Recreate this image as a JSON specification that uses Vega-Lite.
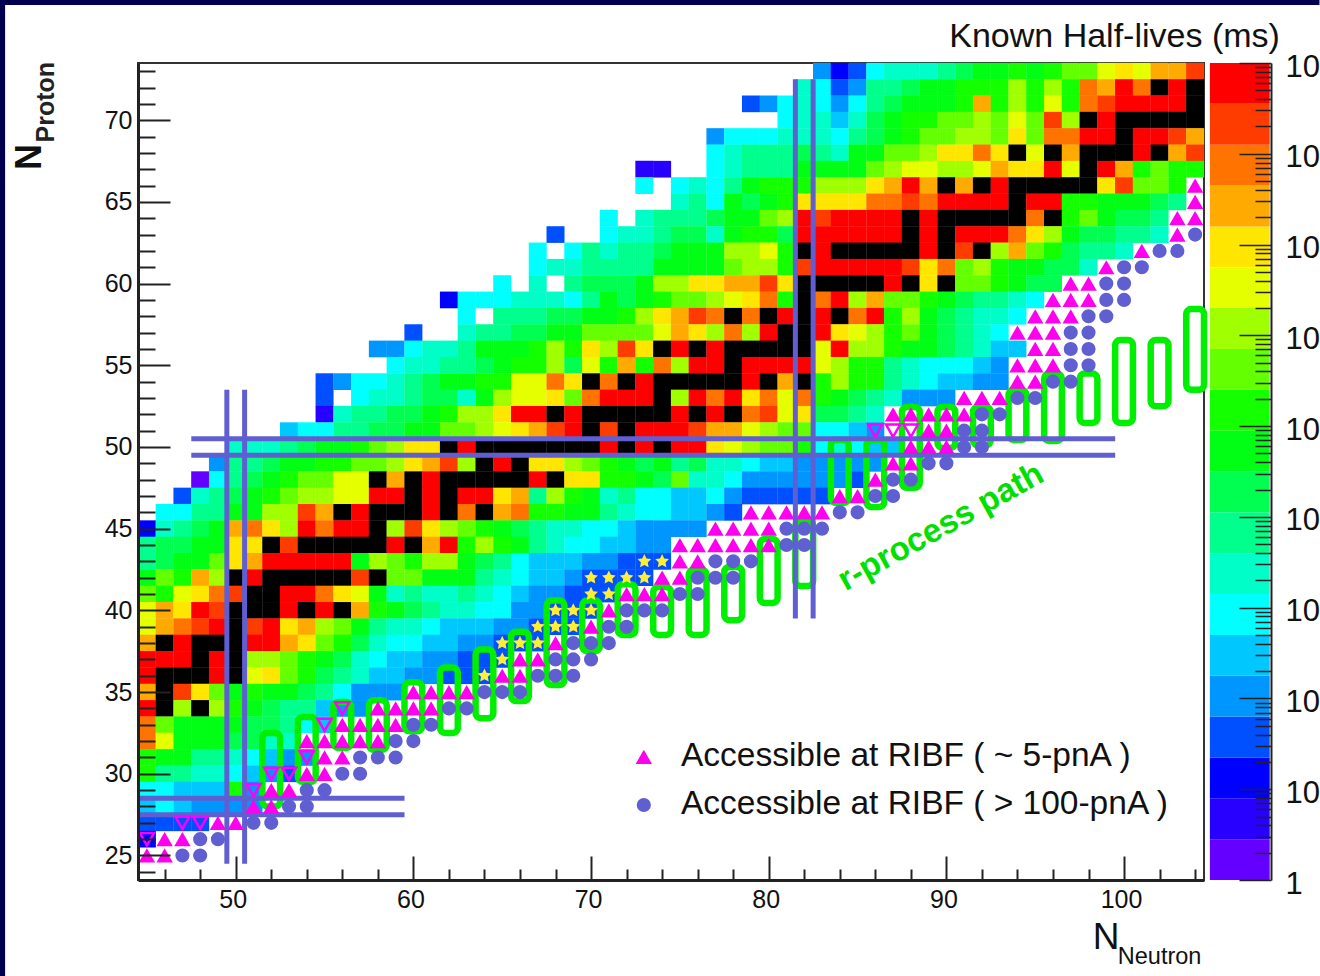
{"$schema":"https://vega.github.io/schema/vega-lite/v6.json","autosize":{"type":"none"},"width":1066,"height":817,"padding":{"left":138,"top":63,"right":116,"bottom":96},"background":"white","config":{"view":{"stroke":"#333333","strokeWidth":2},"text":{"font":"Liberation Sans"}},
"datasets":{"cells":[
{"n":83,"p":73,"v":4},{"n":84,"p":73,"v":2},{"n":85,"p":73,"v":3},{"n":86,"p":73,"v":6},{"n":87,"p":73,"v":7},{"n":88,"p":73,"v":7},{"n":89,"p":73,"v":7},{"n":90,"p":73,"v":8},{"n":91,"p":73,"v":9},{"n":92,"p":73,"v":10},{"n":93,"p":73,"v":10},{"n":94,"p":73,"v":11},{"n":95,"p":73,"v":10},{"n":96,"p":73,"v":11},{"n":97,"p":73,"v":12},{"n":98,"p":73,"v":12},{"n":99,"p":73,"v":14},{"n":100,"p":73,"v":15},{"n":101,"p":73,"v":14},{"n":102,"p":73,"v":16},{"n":103,"p":73,"v":16},{"n":104,"p":73,"v":18},
{"n":82,"p":72,"v":7},{"n":83,"p":72,"v":6},{"n":84,"p":72,"v":3},{"n":85,"p":72,"v":4},{"n":86,"p":72,"v":8},{"n":87,"p":72,"v":8},{"n":88,"p":72,"v":9},{"n":89,"p":72,"v":10},{"n":90,"p":72,"v":10},{"n":91,"p":72,"v":11},{"n":92,"p":72,"v":11},{"n":93,"p":72,"v":11},{"n":94,"p":72,"v":13},{"n":95,"p":72,"v":11},{"n":96,"p":72,"v":13},{"n":97,"p":72,"v":11},{"n":98,"p":72,"v":17},{"n":99,"p":72,"v":16},{"n":100,"p":72,"v":19},{"n":101,"p":72,"v":17},{"n":102,"p":72,"v":20},{"n":103,"p":72,"v":19},{"n":104,"p":72,"v":20},
{"n":79,"p":71,"v":3},{"n":80,"p":71,"v":4},{"n":81,"p":71,"v":6},{"n":82,"p":71,"v":7},{"n":83,"p":71,"v":6},{"n":84,"p":71,"v":4},{"n":85,"p":71,"v":6},{"n":86,"p":71,"v":8},{"n":87,"p":71,"v":9},{"n":88,"p":71,"v":10},{"n":89,"p":71,"v":10},{"n":90,"p":71,"v":10},{"n":91,"p":71,"v":11},{"n":92,"p":71,"v":16},{"n":93,"p":71,"v":11},{"n":94,"p":71,"v":13},{"n":95,"p":71,"v":11},{"n":96,"p":71,"v":14},{"n":97,"p":71,"v":11},{"n":98,"p":71,"v":17},{"n":99,"p":71,"v":18},{"n":100,"p":71,"v":19},{"n":101,"p":71,"v":19},{"n":102,"p":71,"v":19},{"n":103,"p":71,"v":19},{"n":104,"p":71,"v":20},
{"n":81,"p":70,"v":6},{"n":82,"p":70,"v":7},{"n":83,"p":70,"v":7},{"n":84,"p":70,"v":5},{"n":85,"p":70,"v":7},{"n":86,"p":70,"v":9},{"n":87,"p":70,"v":10},{"n":88,"p":70,"v":11},{"n":89,"p":70,"v":11},{"n":90,"p":70,"v":12},{"n":91,"p":70,"v":12},{"n":92,"p":70,"v":13},{"n":93,"p":70,"v":12},{"n":94,"p":70,"v":14},{"n":95,"p":70,"v":12},{"n":96,"p":70,"v":18},{"n":97,"p":70,"v":13},{"n":98,"p":70,"v":20},{"n":99,"p":70,"v":19},{"n":100,"p":70,"v":20},{"n":101,"p":70,"v":20},{"n":102,"p":70,"v":20},{"n":103,"p":70,"v":20},{"n":104,"p":70,"v":20},
{"n":77,"p":69,"v":4},{"n":78,"p":69,"v":6},{"n":79,"p":69,"v":6},{"n":80,"p":69,"v":6},{"n":81,"p":69,"v":7},{"n":82,"p":69,"v":7},{"n":83,"p":69,"v":7},{"n":84,"p":69,"v":6},{"n":85,"p":69,"v":8},{"n":86,"p":69,"v":9},{"n":87,"p":69,"v":10},{"n":88,"p":69,"v":11},{"n":89,"p":69,"v":12},{"n":90,"p":69,"v":12},{"n":91,"p":69,"v":13},{"n":92,"p":69,"v":13},{"n":93,"p":69,"v":12},{"n":94,"p":69,"v":15},{"n":95,"p":69,"v":12},{"n":96,"p":69,"v":17},{"n":97,"p":69,"v":17},{"n":98,"p":69,"v":19},{"n":99,"p":69,"v":19},{"n":100,"p":69,"v":20},{"n":101,"p":69,"v":19},{"n":102,"p":69,"v":19},{"n":103,"p":69,"v":18},{"n":104,"p":69,"v":16},
{"n":77,"p":68,"v":6},{"n":78,"p":68,"v":7},{"n":79,"p":68,"v":8},{"n":80,"p":68,"v":8},{"n":81,"p":68,"v":8},{"n":82,"p":68,"v":9},{"n":83,"p":68,"v":8},{"n":84,"p":68,"v":7},{"n":85,"p":68,"v":10},{"n":86,"p":68,"v":10},{"n":87,"p":68,"v":12},{"n":88,"p":68,"v":12},{"n":89,"p":68,"v":13},{"n":90,"p":68,"v":15},{"n":91,"p":68,"v":15},{"n":92,"p":68,"v":17},{"n":93,"p":68,"v":15},{"n":94,"p":68,"v":20},{"n":95,"p":68,"v":14},{"n":96,"p":68,"v":20},{"n":97,"p":68,"v":16},{"n":98,"p":68,"v":20},{"n":99,"p":68,"v":20},{"n":100,"p":68,"v":20},{"n":101,"p":68,"v":19},{"n":102,"p":68,"v":20},{"n":103,"p":68,"v":16},{"n":104,"p":68,"v":18},
{"n":73,"p":67,"v":1},{"n":74,"p":67,"v":1},{"n":77,"p":67,"v":6},{"n":78,"p":67,"v":7},{"n":79,"p":67,"v":8},{"n":80,"p":67,"v":8},{"n":81,"p":67,"v":8},{"n":82,"p":67,"v":10},{"n":83,"p":67,"v":10},{"n":84,"p":67,"v":10},{"n":85,"p":67,"v":10},{"n":86,"p":67,"v":12},{"n":87,"p":67,"v":13},{"n":88,"p":67,"v":14},{"n":89,"p":67,"v":14},{"n":90,"p":67,"v":13},{"n":91,"p":67,"v":13},{"n":92,"p":67,"v":14},{"n":93,"p":67,"v":16},{"n":94,"p":67,"v":15},{"n":95,"p":67,"v":15},{"n":96,"p":67,"v":19},{"n":97,"p":67,"v":14},{"n":98,"p":67,"v":20},{"n":99,"p":67,"v":19},{"n":100,"p":67,"v":16},{"n":101,"p":67,"v":11},{"n":102,"p":67,"v":12},{"n":103,"p":67,"v":11},{"n":104,"p":67,"v":11},
{"n":73,"p":66,"v":6},{"n":75,"p":66,"v":6},{"n":76,"p":66,"v":7},{"n":77,"p":66,"v":6},{"n":78,"p":66,"v":8},{"n":79,"p":66,"v":10},{"n":80,"p":66,"v":11},{"n":81,"p":66,"v":11},{"n":82,"p":66,"v":11},{"n":83,"p":66,"v":13},{"n":84,"p":66,"v":13},{"n":85,"p":66,"v":13},{"n":86,"p":66,"v":15},{"n":87,"p":66,"v":16},{"n":88,"p":66,"v":19},{"n":89,"p":66,"v":16},{"n":90,"p":66,"v":20},{"n":91,"p":66,"v":16},{"n":92,"p":66,"v":20},{"n":93,"p":66,"v":19},{"n":94,"p":66,"v":20},{"n":95,"p":66,"v":20},{"n":96,"p":66,"v":20},{"n":97,"p":66,"v":20},{"n":98,"p":66,"v":20},{"n":99,"p":66,"v":15},{"n":100,"p":66,"v":18},{"n":101,"p":66,"v":12},{"n":102,"p":66,"v":12},{"n":103,"p":66,"v":11},
{"n":75,"p":65,"v":7},{"n":76,"p":65,"v":8},{"n":77,"p":65,"v":6},{"n":78,"p":65,"v":10},{"n":79,"p":65,"v":9},{"n":80,"p":65,"v":10},{"n":81,"p":65,"v":11},{"n":82,"p":65,"v":15},{"n":83,"p":65,"v":15},{"n":84,"p":65,"v":15},{"n":85,"p":65,"v":15},{"n":86,"p":65,"v":17},{"n":87,"p":65,"v":17},{"n":88,"p":65,"v":18},{"n":89,"p":65,"v":17},{"n":90,"p":65,"v":19},{"n":91,"p":65,"v":19},{"n":92,"p":65,"v":19},{"n":93,"p":65,"v":19},{"n":94,"p":65,"v":20},{"n":95,"p":65,"v":19},{"n":96,"p":65,"v":19},{"n":97,"p":65,"v":11},{"n":98,"p":65,"v":11},{"n":99,"p":65,"v":10},{"n":100,"p":65,"v":10},{"n":101,"p":65,"v":10},{"n":102,"p":65,"v":9},{"n":103,"p":65,"v":8},
{"n":71,"p":64,"v":6},{"n":73,"p":64,"v":7},{"n":74,"p":64,"v":8},{"n":75,"p":64,"v":8},{"n":76,"p":64,"v":8},{"n":77,"p":64,"v":9},{"n":78,"p":64,"v":10},{"n":79,"p":64,"v":10},{"n":80,"p":64,"v":12},{"n":81,"p":64,"v":13},{"n":82,"p":64,"v":19},{"n":83,"p":64,"v":18},{"n":84,"p":64,"v":19},{"n":85,"p":64,"v":19},{"n":86,"p":64,"v":19},{"n":87,"p":64,"v":19},{"n":88,"p":64,"v":20},{"n":89,"p":64,"v":19},{"n":90,"p":64,"v":20},{"n":91,"p":64,"v":20},{"n":92,"p":64,"v":20},{"n":93,"p":64,"v":20},{"n":94,"p":64,"v":20},{"n":95,"p":64,"v":17},{"n":96,"p":64,"v":20},{"n":97,"p":64,"v":11},{"n":98,"p":64,"v":12},{"n":99,"p":64,"v":10},{"n":100,"p":64,"v":9},{"n":101,"p":64,"v":9},{"n":102,"p":64,"v":8},
{"n":68,"p":63,"v":3},{"n":71,"p":63,"v":6},{"n":72,"p":63,"v":7},{"n":73,"p":63,"v":7},{"n":74,"p":63,"v":8},{"n":75,"p":63,"v":9},{"n":76,"p":63,"v":9},{"n":77,"p":63,"v":7},{"n":78,"p":63,"v":10},{"n":79,"p":63,"v":11},{"n":80,"p":63,"v":11},{"n":81,"p":63,"v":9},{"n":82,"p":63,"v":19},{"n":83,"p":63,"v":19},{"n":84,"p":63,"v":19},{"n":85,"p":63,"v":19},{"n":86,"p":63,"v":19},{"n":87,"p":63,"v":19},{"n":88,"p":63,"v":20},{"n":89,"p":63,"v":19},{"n":90,"p":63,"v":20},{"n":91,"p":63,"v":19},{"n":92,"p":63,"v":19},{"n":93,"p":63,"v":19},{"n":94,"p":63,"v":17},{"n":95,"p":63,"v":15},{"n":96,"p":63,"v":13},{"n":97,"p":63,"v":10},{"n":98,"p":63,"v":9},{"n":99,"p":63,"v":9},{"n":100,"p":63,"v":8},{"n":101,"p":63,"v":8},{"n":102,"p":63,"v":7},
{"n":67,"p":62,"v":6},{"n":69,"p":62,"v":6},{"n":70,"p":62,"v":8},{"n":71,"p":62,"v":7},{"n":72,"p":62,"v":8},{"n":73,"p":62,"v":8},{"n":74,"p":62,"v":9},{"n":75,"p":62,"v":10},{"n":76,"p":62,"v":10},{"n":77,"p":62,"v":10},{"n":78,"p":62,"v":13},{"n":79,"p":62,"v":13},{"n":80,"p":62,"v":14},{"n":81,"p":62,"v":11},{"n":82,"p":62,"v":20},{"n":83,"p":62,"v":19},{"n":84,"p":62,"v":20},{"n":85,"p":62,"v":20},{"n":86,"p":62,"v":20},{"n":87,"p":62,"v":20},{"n":88,"p":62,"v":20},{"n":89,"p":62,"v":19},{"n":90,"p":62,"v":20},{"n":91,"p":62,"v":18},{"n":92,"p":62,"v":20},{"n":93,"p":62,"v":13},{"n":94,"p":62,"v":16},{"n":95,"p":62,"v":12},{"n":96,"p":62,"v":11},{"n":97,"p":62,"v":9},{"n":98,"p":62,"v":8},{"n":99,"p":62,"v":8},{"n":100,"p":62,"v":7},
{"n":67,"p":61,"v":6},{"n":68,"p":61,"v":7},{"n":69,"p":61,"v":7},{"n":70,"p":61,"v":8},{"n":71,"p":61,"v":8},{"n":72,"p":61,"v":8},{"n":73,"p":61,"v":8},{"n":74,"p":61,"v":10},{"n":75,"p":61,"v":10},{"n":76,"p":61,"v":10},{"n":77,"p":61,"v":10},{"n":78,"p":61,"v":12},{"n":79,"p":61,"v":13},{"n":80,"p":61,"v":13},{"n":81,"p":61,"v":11},{"n":82,"p":61,"v":18},{"n":83,"p":61,"v":19},{"n":84,"p":61,"v":19},{"n":85,"p":61,"v":19},{"n":86,"p":61,"v":19},{"n":87,"p":61,"v":19},{"n":88,"p":61,"v":18},{"n":89,"p":61,"v":15},{"n":90,"p":61,"v":17},{"n":91,"p":61,"v":12},{"n":92,"p":61,"v":13},{"n":93,"p":61,"v":11},{"n":94,"p":61,"v":10},{"n":95,"p":61,"v":10},{"n":96,"p":61,"v":9},{"n":97,"p":61,"v":9},{"n":98,"p":61,"v":7},
{"n":65,"p":60,"v":6},{"n":67,"p":60,"v":7},{"n":69,"p":60,"v":8},{"n":70,"p":60,"v":9},{"n":71,"p":60,"v":9},{"n":72,"p":60,"v":9},{"n":73,"p":60,"v":10},{"n":74,"p":60,"v":13},{"n":75,"p":60,"v":13},{"n":76,"p":60,"v":15},{"n":77,"p":60,"v":15},{"n":78,"p":60,"v":16},{"n":79,"p":60,"v":16},{"n":80,"p":60,"v":18},{"n":81,"p":60,"v":15},{"n":82,"p":60,"v":20},{"n":83,"p":60,"v":20},{"n":84,"p":60,"v":20},{"n":85,"p":60,"v":20},{"n":86,"p":60,"v":20},{"n":87,"p":60,"v":19},{"n":88,"p":60,"v":20},{"n":89,"p":60,"v":15},{"n":90,"p":60,"v":20},{"n":91,"p":60,"v":12},{"n":92,"p":60,"v":12},{"n":93,"p":60,"v":11},{"n":94,"p":60,"v":10},{"n":95,"p":60,"v":9},{"n":96,"p":60,"v":9},
{"n":62,"p":59,"v":2},{"n":63,"p":59,"v":6},{"n":64,"p":59,"v":6},{"n":65,"p":59,"v":6},{"n":66,"p":59,"v":7},{"n":67,"p":59,"v":7},{"n":68,"p":59,"v":7},{"n":69,"p":59,"v":6},{"n":70,"p":59,"v":8},{"n":71,"p":59,"v":10},{"n":72,"p":59,"v":9},{"n":73,"p":59,"v":10},{"n":74,"p":59,"v":11},{"n":75,"p":59,"v":12},{"n":76,"p":59,"v":12},{"n":77,"p":59,"v":13},{"n":78,"p":59,"v":14},{"n":79,"p":59,"v":15},{"n":80,"p":59,"v":17},{"n":81,"p":59,"v":11},{"n":82,"p":59,"v":20},{"n":83,"p":59,"v":17},{"n":84,"p":59,"v":19},{"n":85,"p":59,"v":13},{"n":86,"p":59,"v":16},{"n":87,"p":59,"v":12},{"n":88,"p":59,"v":12},{"n":89,"p":59,"v":11},{"n":90,"p":59,"v":10},{"n":91,"p":59,"v":9},{"n":92,"p":59,"v":8},{"n":93,"p":59,"v":8},{"n":94,"p":59,"v":7},{"n":95,"p":59,"v":6},
{"n":63,"p":58,"v":6},{"n":65,"p":58,"v":8},{"n":66,"p":58,"v":8},{"n":67,"p":58,"v":8},{"n":68,"p":58,"v":9},{"n":69,"p":58,"v":9},{"n":70,"p":58,"v":10},{"n":71,"p":58,"v":10},{"n":72,"p":58,"v":11},{"n":73,"p":58,"v":13},{"n":74,"p":58,"v":15},{"n":75,"p":58,"v":16},{"n":76,"p":58,"v":18},{"n":77,"p":58,"v":17},{"n":78,"p":58,"v":20},{"n":79,"p":58,"v":17},{"n":80,"p":58,"v":20},{"n":81,"p":58,"v":19},{"n":82,"p":58,"v":20},{"n":83,"p":58,"v":19},{"n":84,"p":58,"v":20},{"n":85,"p":58,"v":17},{"n":86,"p":58,"v":19},{"n":87,"p":58,"v":11},{"n":88,"p":58,"v":13},{"n":89,"p":58,"v":10},{"n":90,"p":58,"v":9},{"n":91,"p":58,"v":8},{"n":92,"p":58,"v":7},{"n":93,"p":58,"v":7},{"n":94,"p":58,"v":6},
{"n":60,"p":57,"v":3},{"n":63,"p":57,"v":7},{"n":64,"p":57,"v":8},{"n":65,"p":57,"v":8},{"n":66,"p":57,"v":9},{"n":67,"p":57,"v":9},{"n":68,"p":57,"v":10},{"n":69,"p":57,"v":10},{"n":70,"p":57,"v":12},{"n":71,"p":57,"v":12},{"n":72,"p":57,"v":12},{"n":73,"p":57,"v":12},{"n":74,"p":57,"v":14},{"n":75,"p":57,"v":16},{"n":76,"p":57,"v":15},{"n":77,"p":57,"v":13},{"n":78,"p":57,"v":17},{"n":79,"p":57,"v":13},{"n":80,"p":57,"v":19},{"n":81,"p":57,"v":20},{"n":82,"p":57,"v":20},{"n":83,"p":57,"v":19},{"n":84,"p":57,"v":15},{"n":85,"p":57,"v":14},{"n":86,"p":57,"v":13},{"n":87,"p":57,"v":11},{"n":88,"p":57,"v":12},{"n":89,"p":57,"v":10},{"n":90,"p":57,"v":9},{"n":91,"p":57,"v":8},{"n":92,"p":57,"v":7},{"n":93,"p":57,"v":6},
{"n":58,"p":56,"v":4},{"n":59,"p":56,"v":4},{"n":60,"p":56,"v":6},{"n":61,"p":56,"v":7},{"n":62,"p":56,"v":7},{"n":63,"p":56,"v":8},{"n":64,"p":56,"v":10},{"n":65,"p":56,"v":10},{"n":66,"p":56,"v":10},{"n":67,"p":56,"v":11},{"n":68,"p":56,"v":13},{"n":69,"p":56,"v":11},{"n":70,"p":56,"v":15},{"n":71,"p":56,"v":13},{"n":72,"p":56,"v":18},{"n":73,"p":56,"v":15},{"n":74,"p":56,"v":20},{"n":75,"p":56,"v":19},{"n":76,"p":56,"v":20},{"n":77,"p":56,"v":19},{"n":78,"p":56,"v":20},{"n":79,"p":56,"v":20},{"n":80,"p":56,"v":20},{"n":81,"p":56,"v":20},{"n":82,"p":56,"v":20},{"n":83,"p":56,"v":14},{"n":84,"p":56,"v":19},{"n":85,"p":56,"v":13},{"n":86,"p":56,"v":13},{"n":87,"p":56,"v":11},{"n":88,"p":56,"v":10},{"n":89,"p":56,"v":10},{"n":90,"p":56,"v":9},{"n":91,"p":56,"v":8},{"n":92,"p":56,"v":7},{"n":93,"p":56,"v":5},{"n":94,"p":56,"v":5},
{"n":59,"p":55,"v":6},{"n":60,"p":55,"v":7},{"n":61,"p":55,"v":7},{"n":62,"p":55,"v":8},{"n":63,"p":55,"v":8},{"n":64,"p":55,"v":9},{"n":65,"p":55,"v":10},{"n":66,"p":55,"v":11},{"n":67,"p":55,"v":11},{"n":68,"p":55,"v":13},{"n":69,"p":55,"v":9},{"n":70,"p":55,"v":14},{"n":71,"p":55,"v":11},{"n":72,"p":55,"v":16},{"n":73,"p":55,"v":11},{"n":74,"p":55,"v":17},{"n":75,"p":55,"v":13},{"n":76,"p":55,"v":19},{"n":77,"p":55,"v":19},{"n":78,"p":55,"v":20},{"n":79,"p":55,"v":19},{"n":80,"p":55,"v":19},{"n":81,"p":55,"v":19},{"n":82,"p":55,"v":19},{"n":83,"p":55,"v":14},{"n":84,"p":55,"v":13},{"n":85,"p":55,"v":11},{"n":86,"p":55,"v":11},{"n":87,"p":55,"v":8},{"n":88,"p":55,"v":7},{"n":89,"p":55,"v":6},{"n":90,"p":55,"v":6},{"n":91,"p":55,"v":6},{"n":92,"p":55,"v":5},{"n":93,"p":55,"v":4},
{"n":55,"p":54,"v":3},{"n":56,"p":54,"v":4},{"n":57,"p":54,"v":6},{"n":58,"p":54,"v":6},{"n":59,"p":54,"v":7},{"n":60,"p":54,"v":8},{"n":61,"p":54,"v":9},{"n":62,"p":54,"v":10},{"n":63,"p":54,"v":10},{"n":64,"p":54,"v":11},{"n":65,"p":54,"v":11},{"n":66,"p":54,"v":14},{"n":67,"p":54,"v":14},{"n":68,"p":54,"v":17},{"n":69,"p":54,"v":15},{"n":70,"p":54,"v":20},{"n":71,"p":54,"v":17},{"n":72,"p":54,"v":20},{"n":73,"p":54,"v":19},{"n":74,"p":54,"v":20},{"n":75,"p":54,"v":20},{"n":76,"p":54,"v":20},{"n":77,"p":54,"v":20},{"n":78,"p":54,"v":20},{"n":79,"p":54,"v":19},{"n":80,"p":54,"v":20},{"n":81,"p":54,"v":16},{"n":82,"p":54,"v":20},{"n":83,"p":54,"v":11},{"n":84,"p":54,"v":13},{"n":85,"p":54,"v":11},{"n":86,"p":54,"v":11},{"n":87,"p":54,"v":8},{"n":88,"p":54,"v":7},{"n":89,"p":54,"v":6},{"n":90,"p":54,"v":5},{"n":91,"p":54,"v":5},{"n":92,"p":54,"v":4},{"n":93,"p":54,"v":4},
{"n":55,"p":53,"v":3},{"n":57,"p":53,"v":6},{"n":58,"p":53,"v":7},{"n":59,"p":53,"v":7},{"n":60,"p":53,"v":8},{"n":61,"p":53,"v":9},{"n":62,"p":53,"v":9},{"n":63,"p":53,"v":7},{"n":64,"p":53,"v":10},{"n":65,"p":53,"v":13},{"n":66,"p":53,"v":14},{"n":67,"p":53,"v":14},{"n":68,"p":53,"v":15},{"n":69,"p":53,"v":12},{"n":70,"p":53,"v":17},{"n":71,"p":53,"v":19},{"n":72,"p":53,"v":19},{"n":73,"p":53,"v":19},{"n":74,"p":53,"v":20},{"n":75,"p":53,"v":13},{"n":76,"p":53,"v":19},{"n":77,"p":53,"v":17},{"n":78,"p":53,"v":19},{"n":79,"p":53,"v":15},{"n":80,"p":53,"v":17},{"n":81,"p":53,"v":14},{"n":82,"p":53,"v":17},{"n":83,"p":53,"v":11},{"n":84,"p":53,"v":10},{"n":85,"p":53,"v":9},{"n":86,"p":53,"v":8},{"n":87,"p":53,"v":7},{"n":88,"p":53,"v":4},{"n":89,"p":53,"v":4},{"n":90,"p":53,"v":4},
{"n":55,"p":52,"v":1},{"n":56,"p":52,"v":7},{"n":57,"p":52,"v":8},{"n":58,"p":52,"v":8},{"n":59,"p":52,"v":9},{"n":60,"p":52,"v":9},{"n":61,"p":52,"v":10},{"n":62,"p":52,"v":11},{"n":63,"p":52,"v":13},{"n":64,"p":52,"v":13},{"n":65,"p":52,"v":15},{"n":66,"p":52,"v":19},{"n":67,"p":52,"v":19},{"n":68,"p":52,"v":20},{"n":69,"p":52,"v":19},{"n":70,"p":52,"v":20},{"n":71,"p":52,"v":20},{"n":72,"p":52,"v":20},{"n":73,"p":52,"v":20},{"n":74,"p":52,"v":20},{"n":75,"p":52,"v":19},{"n":76,"p":52,"v":20},{"n":77,"p":52,"v":19},{"n":78,"p":52,"v":20},{"n":79,"p":52,"v":17},{"n":80,"p":52,"v":18},{"n":81,"p":52,"v":14},{"n":82,"p":52,"v":15},{"n":83,"p":52,"v":9},{"n":84,"p":52,"v":9},{"n":85,"p":52,"v":8},{"n":86,"p":52,"v":7},
{"n":53,"p":51,"v":5},{"n":54,"p":51,"v":6},{"n":55,"p":51,"v":6},{"n":56,"p":51,"v":8},{"n":57,"p":51,"v":8},{"n":58,"p":51,"v":9},{"n":59,"p":51,"v":9},{"n":60,"p":51,"v":10},{"n":61,"p":51,"v":10},{"n":62,"p":51,"v":12},{"n":63,"p":51,"v":12},{"n":64,"p":51,"v":13},{"n":65,"p":51,"v":14},{"n":66,"p":51,"v":15},{"n":67,"p":51,"v":16},{"n":68,"p":51,"v":18},{"n":69,"p":51,"v":19},{"n":70,"p":51,"v":20},{"n":71,"p":51,"v":18},{"n":72,"p":51,"v":20},{"n":73,"p":51,"v":19},{"n":74,"p":51,"v":19},{"n":75,"p":51,"v":19},{"n":76,"p":51,"v":18},{"n":77,"p":51,"v":16},{"n":78,"p":51,"v":16},{"n":79,"p":51,"v":14},{"n":80,"p":51,"v":13},{"n":81,"p":51,"v":12},{"n":82,"p":51,"v":12},{"n":83,"p":51,"v":6},{"n":84,"p":51,"v":6},{"n":85,"p":51,"v":5},{"n":86,"p":51,"v":4},
{"n":50,"p":50,"v":7},{"n":51,"p":50,"v":7},{"n":52,"p":50,"v":7},{"n":53,"p":50,"v":8},{"n":54,"p":50,"v":9},{"n":55,"p":50,"v":10},{"n":56,"p":50,"v":10},{"n":57,"p":50,"v":11},{"n":58,"p":50,"v":12},{"n":59,"p":50,"v":13},{"n":60,"p":50,"v":15},{"n":61,"p":50,"v":15},{"n":62,"p":50,"v":20},{"n":63,"p":50,"v":19},{"n":64,"p":50,"v":20},{"n":65,"p":50,"v":20},{"n":66,"p":50,"v":20},{"n":67,"p":50,"v":20},{"n":68,"p":50,"v":20},{"n":69,"p":50,"v":20},{"n":70,"p":50,"v":20},{"n":71,"p":50,"v":19},{"n":72,"p":50,"v":20},{"n":73,"p":50,"v":19},{"n":74,"p":50,"v":20},{"n":75,"p":50,"v":19},{"n":76,"p":50,"v":19},{"n":77,"p":50,"v":15},{"n":78,"p":50,"v":14},{"n":79,"p":50,"v":13},{"n":80,"p":50,"v":12},{"n":81,"p":50,"v":12},{"n":82,"p":50,"v":11},{"n":83,"p":50,"v":6},{"n":84,"p":50,"v":7},{"n":85,"p":50,"v":6},{"n":86,"p":50,"v":5},{"n":87,"p":50,"v":5},
{"n":49,"p":49,"v":4},{"n":50,"p":49,"v":8},{"n":51,"p":49,"v":8},{"n":52,"p":49,"v":9},{"n":53,"p":49,"v":10},{"n":54,"p":49,"v":10},{"n":55,"p":49,"v":11},{"n":56,"p":49,"v":11},{"n":57,"p":49,"v":12},{"n":58,"p":49,"v":12},{"n":59,"p":49,"v":13},{"n":60,"p":49,"v":15},{"n":61,"p":49,"v":16},{"n":62,"p":49,"v":18},{"n":63,"p":49,"v":13},{"n":64,"p":49,"v":20},{"n":65,"p":49,"v":19},{"n":66,"p":49,"v":20},{"n":67,"p":49,"v":15},{"n":68,"p":49,"v":15},{"n":69,"p":49,"v":13},{"n":70,"p":49,"v":12},{"n":71,"p":49,"v":11},{"n":72,"p":49,"v":10},{"n":73,"p":49,"v":9},{"n":74,"p":49,"v":10},{"n":75,"p":49,"v":8},{"n":76,"p":49,"v":9},{"n":77,"p":49,"v":7},{"n":78,"p":49,"v":7},{"n":79,"p":49,"v":6},{"n":80,"p":49,"v":5},{"n":81,"p":49,"v":5},{"n":82,"p":49,"v":4},{"n":83,"p":49,"v":4},{"n":84,"p":49,"v":4},{"n":85,"p":49,"v":4},{"n":86,"p":49,"v":4},
{"n":48,"p":48,"v":0},{"n":49,"p":48,"v":6},{"n":50,"p":48,"v":8},{"n":51,"p":48,"v":9},{"n":52,"p":48,"v":10},{"n":53,"p":48,"v":11},{"n":54,"p":48,"v":12},{"n":55,"p":48,"v":12},{"n":56,"p":48,"v":14},{"n":57,"p":48,"v":14},{"n":58,"p":48,"v":20},{"n":59,"p":48,"v":16},{"n":60,"p":48,"v":20},{"n":61,"p":48,"v":19},{"n":62,"p":48,"v":20},{"n":63,"p":48,"v":20},{"n":64,"p":48,"v":20},{"n":65,"p":48,"v":20},{"n":66,"p":48,"v":20},{"n":67,"p":48,"v":19},{"n":68,"p":48,"v":20},{"n":69,"p":48,"v":15},{"n":70,"p":48,"v":15},{"n":71,"p":48,"v":11},{"n":72,"p":48,"v":11},{"n":73,"p":48,"v":10},{"n":74,"p":48,"v":9},{"n":75,"p":48,"v":12},{"n":76,"p":48,"v":7},{"n":77,"p":48,"v":7},{"n":78,"p":48,"v":6},{"n":79,"p":48,"v":4},{"n":80,"p":48,"v":4},{"n":81,"p":48,"v":4},{"n":82,"p":48,"v":4},{"n":83,"p":48,"v":4},{"n":84,"p":48,"v":4},{"n":85,"p":48,"v":3},
{"n":47,"p":47,"v":3},{"n":48,"p":47,"v":7},{"n":49,"p":47,"v":8},{"n":50,"p":47,"v":9},{"n":51,"p":47,"v":10},{"n":52,"p":47,"v":11},{"n":53,"p":47,"v":12},{"n":54,"p":47,"v":13},{"n":55,"p":47,"v":13},{"n":56,"p":47,"v":14},{"n":57,"p":47,"v":14},{"n":58,"p":47,"v":19},{"n":59,"p":47,"v":19},{"n":60,"p":47,"v":20},{"n":61,"p":47,"v":19},{"n":62,"p":47,"v":20},{"n":63,"p":47,"v":19},{"n":64,"p":47,"v":19},{"n":65,"p":47,"v":15},{"n":66,"p":47,"v":16},{"n":67,"p":47,"v":8},{"n":68,"p":47,"v":13},{"n":69,"p":47,"v":11},{"n":70,"p":47,"v":10},{"n":71,"p":47,"v":7},{"n":72,"p":47,"v":8},{"n":73,"p":47,"v":6},{"n":74,"p":47,"v":6},{"n":75,"p":47,"v":5},{"n":76,"p":47,"v":5},{"n":77,"p":47,"v":6},{"n":78,"p":47,"v":4},{"n":79,"p":47,"v":3},{"n":80,"p":47,"v":3},{"n":81,"p":47,"v":3},{"n":82,"p":47,"v":3},{"n":83,"p":47,"v":3},
{"n":46,"p":46,"v":6},{"n":47,"p":46,"v":6},{"n":48,"p":46,"v":8},{"n":49,"p":46,"v":8},{"n":50,"p":46,"v":10},{"n":51,"p":46,"v":10},{"n":52,"p":46,"v":13},{"n":53,"p":46,"v":13},{"n":54,"p":46,"v":18},{"n":55,"p":46,"v":16},{"n":56,"p":46,"v":20},{"n":57,"p":46,"v":19},{"n":58,"p":46,"v":20},{"n":59,"p":46,"v":20},{"n":60,"p":46,"v":20},{"n":61,"p":46,"v":19},{"n":62,"p":46,"v":20},{"n":63,"p":46,"v":17},{"n":64,"p":46,"v":20},{"n":65,"p":46,"v":16},{"n":66,"p":46,"v":17},{"n":67,"p":46,"v":11},{"n":68,"p":46,"v":11},{"n":69,"p":46,"v":10},{"n":70,"p":46,"v":10},{"n":71,"p":46,"v":8},{"n":72,"p":46,"v":7},{"n":73,"p":46,"v":6},{"n":74,"p":46,"v":6},{"n":75,"p":46,"v":5},{"n":76,"p":46,"v":5},{"n":77,"p":46,"v":4},{"n":78,"p":46,"v":3},
{"n":45,"p":45,"v":2},{"n":46,"p":45,"v":7},{"n":47,"p":45,"v":8},{"n":48,"p":45,"v":9},{"n":49,"p":45,"v":10},{"n":50,"p":45,"v":16},{"n":51,"p":45,"v":17},{"n":52,"p":45,"v":15},{"n":53,"p":45,"v":13},{"n":54,"p":45,"v":19},{"n":55,"p":45,"v":17},{"n":56,"p":45,"v":19},{"n":57,"p":45,"v":19},{"n":58,"p":45,"v":20},{"n":59,"p":45,"v":13},{"n":60,"p":45,"v":18},{"n":61,"p":45,"v":15},{"n":62,"p":45,"v":13},{"n":63,"p":45,"v":12},{"n":64,"p":45,"v":11},{"n":65,"p":45,"v":10},{"n":66,"p":45,"v":9},{"n":67,"p":45,"v":8},{"n":68,"p":45,"v":7},{"n":69,"p":45,"v":7},{"n":70,"p":45,"v":6},{"n":71,"p":45,"v":6},{"n":72,"p":45,"v":5},{"n":73,"p":45,"v":4},{"n":74,"p":45,"v":4},{"n":75,"p":45,"v":4},{"n":76,"p":45,"v":4},
{"n":45,"p":44,"v":8},{"n":46,"p":44,"v":9},{"n":47,"p":44,"v":9},{"n":48,"p":44,"v":10},{"n":49,"p":44,"v":10},{"n":50,"p":44,"v":15},{"n":51,"p":44,"v":15},{"n":52,"p":44,"v":20},{"n":53,"p":44,"v":18},{"n":54,"p":44,"v":20},{"n":55,"p":44,"v":20},{"n":56,"p":44,"v":20},{"n":57,"p":44,"v":20},{"n":58,"p":44,"v":20},{"n":59,"p":44,"v":19},{"n":60,"p":44,"v":20},{"n":61,"p":44,"v":16},{"n":62,"p":44,"v":19},{"n":63,"p":44,"v":11},{"n":64,"p":44,"v":13},{"n":65,"p":44,"v":11},{"n":66,"p":44,"v":10},{"n":67,"p":44,"v":8},{"n":68,"p":44,"v":7},{"n":69,"p":44,"v":6},{"n":70,"p":44,"v":6},{"n":71,"p":44,"v":5},{"n":72,"p":44,"v":5},{"n":73,"p":44,"v":4},{"n":74,"p":44,"v":4},
{"n":45,"p":43,"v":8},{"n":46,"p":43,"v":9},{"n":47,"p":43,"v":10},{"n":48,"p":43,"v":10},{"n":49,"p":43,"v":12},{"n":50,"p":43,"v":15},{"n":51,"p":43,"v":16},{"n":52,"p":43,"v":19},{"n":53,"p":43,"v":19},{"n":54,"p":43,"v":19},{"n":55,"p":43,"v":19},{"n":56,"p":43,"v":19},{"n":57,"p":43,"v":10},{"n":58,"p":43,"v":13},{"n":59,"p":43,"v":12},{"n":60,"p":43,"v":11},{"n":61,"p":43,"v":13},{"n":62,"p":43,"v":13},{"n":63,"p":43,"v":10},{"n":64,"p":43,"v":9},{"n":65,"p":43,"v":8},{"n":66,"p":43,"v":6},{"n":67,"p":43,"v":5},{"n":68,"p":43,"v":5},{"n":69,"p":43,"v":5},{"n":70,"p":43,"v":4},{"n":71,"p":43,"v":4},{"n":72,"p":43,"v":3},{"n":73,"p":43,"v":3},{"n":74,"p":43,"v":3},
{"n":45,"p":42,"v":10},{"n":46,"p":42,"v":12},{"n":47,"p":42,"v":11},{"n":48,"p":42,"v":16},{"n":49,"p":42,"v":13},{"n":50,"p":42,"v":20},{"n":51,"p":42,"v":19},{"n":52,"p":42,"v":20},{"n":53,"p":42,"v":20},{"n":54,"p":42,"v":20},{"n":55,"p":42,"v":20},{"n":56,"p":42,"v":20},{"n":57,"p":42,"v":18},{"n":58,"p":42,"v":20},{"n":59,"p":42,"v":12},{"n":60,"p":42,"v":12},{"n":61,"p":42,"v":10},{"n":62,"p":42,"v":10},{"n":63,"p":42,"v":10},{"n":64,"p":42,"v":8},{"n":65,"p":42,"v":7},{"n":66,"p":42,"v":6},{"n":67,"p":42,"v":5},{"n":68,"p":42,"v":5},{"n":69,"p":42,"v":4},{"n":70,"p":42,"v":3},{"n":71,"p":42,"v":3},{"n":72,"p":42,"v":3},{"n":73,"p":42,"v":3},
{"n":45,"p":41,"v":12},{"n":46,"p":41,"v":11},{"n":47,"p":41,"v":14},{"n":48,"p":41,"v":15},{"n":49,"p":41,"v":17},{"n":50,"p":41,"v":18},{"n":51,"p":41,"v":20},{"n":52,"p":41,"v":20},{"n":53,"p":41,"v":19},{"n":54,"p":41,"v":19},{"n":55,"p":41,"v":17},{"n":56,"p":41,"v":15},{"n":57,"p":41,"v":14},{"n":58,"p":41,"v":10},{"n":59,"p":41,"v":7},{"n":60,"p":41,"v":8},{"n":61,"p":41,"v":7},{"n":62,"p":41,"v":7},{"n":63,"p":41,"v":8},{"n":64,"p":41,"v":7},{"n":65,"p":41,"v":6},{"n":66,"p":41,"v":5},{"n":67,"p":41,"v":4},{"n":68,"p":41,"v":4},{"n":69,"p":41,"v":3},{"n":70,"p":41,"v":3},{"n":71,"p":41,"v":3},
{"n":45,"p":40,"v":14},{"n":46,"p":40,"v":16},{"n":47,"p":40,"v":15},{"n":48,"p":40,"v":19},{"n":49,"p":40,"v":18},{"n":50,"p":40,"v":20},{"n":51,"p":40,"v":20},{"n":52,"p":40,"v":20},{"n":53,"p":40,"v":19},{"n":54,"p":40,"v":20},{"n":55,"p":40,"v":19},{"n":56,"p":40,"v":20},{"n":57,"p":40,"v":16},{"n":58,"p":40,"v":11},{"n":59,"p":40,"v":10},{"n":60,"p":40,"v":9},{"n":61,"p":40,"v":8},{"n":62,"p":40,"v":7},{"n":63,"p":40,"v":7},{"n":64,"p":40,"v":6},{"n":65,"p":40,"v":6},{"n":66,"p":40,"v":4},{"n":67,"p":40,"v":4},{"n":68,"p":40,"v":3},{"n":69,"p":40,"v":3},{"n":70,"p":40,"v":3},
{"n":45,"p":39,"v":14},{"n":46,"p":39,"v":16},{"n":47,"p":39,"v":17},{"n":48,"p":39,"v":18},{"n":49,"p":39,"v":19},{"n":50,"p":39,"v":20},{"n":51,"p":39,"v":18},{"n":52,"p":39,"v":19},{"n":53,"p":39,"v":15},{"n":54,"p":39,"v":16},{"n":55,"p":39,"v":13},{"n":56,"p":39,"v":12},{"n":57,"p":39,"v":10},{"n":58,"p":39,"v":8},{"n":59,"p":39,"v":7},{"n":60,"p":39,"v":7},{"n":61,"p":39,"v":6},{"n":62,"p":39,"v":5},{"n":63,"p":39,"v":5},{"n":64,"p":39,"v":5},{"n":65,"p":39,"v":4},{"n":66,"p":39,"v":4},{"n":67,"p":39,"v":3},{"n":68,"p":39,"v":3},{"n":69,"p":39,"v":3},
{"n":45,"p":38,"v":16},{"n":46,"p":38,"v":20},{"n":47,"p":38,"v":19},{"n":48,"p":38,"v":20},{"n":49,"p":38,"v":20},{"n":50,"p":38,"v":20},{"n":51,"p":38,"v":19},{"n":52,"p":38,"v":19},{"n":53,"p":38,"v":16},{"n":54,"p":38,"v":15},{"n":55,"p":38,"v":12},{"n":56,"p":38,"v":11},{"n":57,"p":38,"v":9},{"n":58,"p":38,"v":7},{"n":59,"p":38,"v":6},{"n":60,"p":38,"v":6},{"n":61,"p":38,"v":5},{"n":62,"p":38,"v":5},{"n":63,"p":38,"v":4},{"n":64,"p":38,"v":4},{"n":65,"p":38,"v":3},{"n":66,"p":38,"v":3},{"n":67,"p":38,"v":3},
{"n":45,"p":37,"v":19},{"n":46,"p":37,"v":19},{"n":47,"p":37,"v":19},{"n":48,"p":37,"v":20},{"n":49,"p":37,"v":19},{"n":50,"p":37,"v":20},{"n":51,"p":37,"v":13},{"n":52,"p":37,"v":13},{"n":53,"p":37,"v":12},{"n":54,"p":37,"v":11},{"n":55,"p":37,"v":10},{"n":56,"p":37,"v":9},{"n":57,"p":37,"v":7},{"n":58,"p":37,"v":6},{"n":59,"p":37,"v":5},{"n":60,"p":37,"v":5},{"n":61,"p":37,"v":4},{"n":62,"p":37,"v":4},{"n":63,"p":37,"v":3},{"n":64,"p":37,"v":3},{"n":65,"p":37,"v":3},
{"n":45,"p":36,"v":19},{"n":46,"p":36,"v":20},{"n":47,"p":36,"v":20},{"n":48,"p":36,"v":20},{"n":49,"p":36,"v":19},{"n":50,"p":36,"v":20},{"n":51,"p":36,"v":14},{"n":52,"p":36,"v":15},{"n":53,"p":36,"v":12},{"n":54,"p":36,"v":11},{"n":55,"p":36,"v":9},{"n":56,"p":36,"v":8},{"n":57,"p":36,"v":7},{"n":58,"p":36,"v":5},{"n":59,"p":36,"v":5},{"n":60,"p":36,"v":4},{"n":61,"p":36,"v":4},{"n":62,"p":36,"v":3},{"n":63,"p":36,"v":3},{"n":64,"p":36,"v":3},
{"n":45,"p":35,"v":16},{"n":46,"p":35,"v":20},{"n":47,"p":35,"v":18},{"n":48,"p":35,"v":15},{"n":49,"p":35,"v":12},{"n":50,"p":35,"v":10},{"n":51,"p":35,"v":11},{"n":52,"p":35,"v":10},{"n":53,"p":35,"v":10},{"n":54,"p":35,"v":9},{"n":55,"p":35,"v":8},{"n":56,"p":35,"v":6},{"n":57,"p":35,"v":4},{"n":58,"p":35,"v":4},{"n":59,"p":35,"v":4},
{"n":45,"p":34,"v":19},{"n":46,"p":34,"v":20},{"n":47,"p":34,"v":13},{"n":48,"p":34,"v":20},{"n":49,"p":34,"v":13},{"n":50,"p":34,"v":11},{"n":51,"p":34,"v":10},{"n":52,"p":34,"v":9},{"n":53,"p":34,"v":8},{"n":54,"p":34,"v":8},{"n":55,"p":34,"v":5},{"n":56,"p":34,"v":4},{"n":57,"p":34,"v":4},
{"n":45,"p":33,"v":17},{"n":46,"p":33,"v":12},{"n":47,"p":33,"v":10},{"n":48,"p":33,"v":10},{"n":49,"p":33,"v":10},{"n":50,"p":33,"v":10},{"n":51,"p":33,"v":9},{"n":52,"p":33,"v":9},{"n":53,"p":33,"v":8},{"n":54,"p":33,"v":6},{"n":55,"p":33,"v":5},
{"n":45,"p":32,"v":17},{"n":46,"p":32,"v":14},{"n":47,"p":32,"v":10},{"n":48,"p":32,"v":10},{"n":49,"p":32,"v":10},{"n":50,"p":32,"v":9},{"n":51,"p":32,"v":9},{"n":52,"p":32,"v":7},{"n":53,"p":32,"v":7},
{"n":45,"p":31,"v":11},{"n":46,"p":31,"v":10},{"n":47,"p":31,"v":10},{"n":48,"p":31,"v":8},{"n":49,"p":31,"v":8},{"n":50,"p":31,"v":7},{"n":51,"p":31,"v":6},{"n":52,"p":31,"v":5},{"n":53,"p":31,"v":4},{"n":54,"p":31,"v":4},
{"n":45,"p":30,"v":11},{"n":46,"p":30,"v":8},{"n":47,"p":30,"v":8},{"n":48,"p":30,"v":7},{"n":49,"p":30,"v":7},{"n":50,"p":30,"v":6},{"n":51,"p":30,"v":5},{"n":52,"p":30,"v":4},{"n":53,"p":30,"v":3},
{"n":45,"p":29,"v":6},{"n":46,"p":29,"v":6},{"n":47,"p":29,"v":5},{"n":48,"p":29,"v":5},{"n":49,"p":29,"v":5},{"n":50,"p":29,"v":11},{"n":51,"p":29,"v":4},
{"n":45,"p":28,"v":5},{"n":46,"p":28,"v":6},{"n":47,"p":28,"v":5},{"n":48,"p":28,"v":4},{"n":49,"p":28,"v":4},{"n":50,"p":28,"v":4},{"n":51,"p":28,"v":4},
{"n":45,"p":27,"v":3},{"n":46,"p":27,"v":3},{"n":47,"p":27,"v":3},{"n":48,"p":27,"v":3},{"n":45,"p":26,"v":2}
],
"bar":[{"i":0,"lo":1,"hi":2.82,"a":104.83,"b":108.2},{"i":1,"lo":2.82,"hi":7.94,"a":104.83,"b":108.2},{"i":2,"lo":7.94,"hi":22.4,"a":104.83,"b":108.2},{"i":3,"lo":22.4,"hi":63.1,"a":104.83,"b":108.2},{"i":4,"lo":63.1,"hi":178,"a":104.83,"b":108.2},{"i":5,"lo":178,"hi":501,"a":104.83,"b":108.2},{"i":6,"lo":501,"hi":1413,"a":104.83,"b":108.2},{"i":7,"lo":1413,"hi":3981,"a":104.83,"b":108.2},{"i":8,"lo":3981,"hi":11220,"a":104.83,"b":108.2},{"i":9,"lo":11220,"hi":31620,"a":104.83,"b":108.2},{"i":10,"lo":31620,"hi":89130,"a":104.83,"b":108.2},{"i":11,"lo":89130,"hi":251200,"a":104.83,"b":108.2},{"i":12,"lo":251200,"hi":707900,"a":104.83,"b":108.2},{"i":13,"lo":707900,"hi":1995000,"a":104.83,"b":108.2},{"i":14,"lo":1995000,"hi":5623000,"a":104.83,"b":108.2},{"i":15,"lo":5623000,"hi":15850000,"a":104.83,"b":108.2},{"i":16,"lo":15850000,"hi":44670000,"a":104.83,"b":108.2},{"i":17,"lo":44670000,"hi":125900000,"a":104.83,"b":108.2},{"i":18,"lo":125900000,"hi":354800000,"a":104.83,"b":108.2},{"i":19,"lo":354800000,"hi":1000000000,"a":104.83,"b":108.2}],
"marks":[{"n":45,"p":25,"k":"t"},{"n":46,"p":25,"k":"t"},{"n":47,"p":25,"k":"c"},{"n":48,"p":25,"k":"c"},{"n":45,"p":26,"k":"v"},{"n":46,"p":26,"k":"t"},{"n":47,"p":26,"k":"t"},{"n":48,"p":26,"k":"c"},{"n":49,"p":26,"k":"c"},{"n":47,"p":27,"k":"v"},{"n":48,"p":27,"k":"v"},{"n":49,"p":27,"k":"t"},{"n":50,"p":27,"k":"t"},{"n":51,"p":27,"k":"c"},{"n":52,"p":27,"k":"c"},{"n":51,"p":28,"k":"t"},{"n":52,"p":28,"k":"t"},{"n":53,"p":28,"k":"c"},{"n":54,"p":28,"k":"c"},{"n":51,"p":29,"k":"v"},{"n":52,"p":29,"k":"t"},{"n":53,"p":29,"k":"t"},{"n":54,"p":29,"k":"c"},{"n":55,"p":29,"k":"c"},{"n":52,"p":30,"k":"v"},{"n":53,"p":30,"k":"v"},{"n":54,"p":30,"k":"t"},{"n":55,"p":30,"k":"t"},{"n":56,"p":30,"k":"c"},{"n":57,"p":30,"k":"c"},{"n":54,"p":31,"k":"v"},{"n":55,"p":31,"k":"t"},{"n":56,"p":31,"k":"t"},{"n":57,"p":31,"k":"c"},{"n":58,"p":31,"k":"c"},{"n":59,"p":31,"k":"c"},{"n":54,"p":32,"k":"t"},{"n":55,"p":32,"k":"t"},{"n":56,"p":32,"k":"t"},{"n":57,"p":32,"k":"t"},{"n":58,"p":32,"k":"t"},{"n":59,"p":32,"k":"c"},{"n":60,"p":32,"k":"c"},{"n":55,"p":33,"k":"v"},{"n":56,"p":33,"k":"t"},{"n":57,"p":33,"k":"t"},{"n":58,"p":33,"k":"t"},{"n":59,"p":33,"k":"t"},{"n":60,"p":33,"k":"c"},{"n":61,"p":33,"k":"c"},{"n":56,"p":34,"k":"v"},{"n":58,"p":34,"k":"t"},{"n":59,"p":34,"k":"t"},{"n":60,"p":34,"k":"t"},{"n":61,"p":34,"k":"t"},{"n":62,"p":34,"k":"c"},{"n":63,"p":34,"k":"c"},{"n":60,"p":35,"k":"t"},{"n":61,"p":35,"k":"t"},{"n":62,"p":35,"k":"t"},{"n":63,"p":35,"k":"t"},{"n":64,"p":35,"k":"c"},{"n":65,"p":35,"k":"c"},{"n":66,"p":35,"k":"c"},{"n":64,"p":36,"k":"s"},{"n":65,"p":36,"k":"t"},{"n":66,"p":36,"k":"t"},{"n":67,"p":36,"k":"c"},{"n":68,"p":36,"k":"c"},{"n":69,"p":36,"k":"c"},{"n":65,"p":37,"k":"s"},{"n":66,"p":37,"k":"t"},{"n":67,"p":37,"k":"t"},{"n":68,"p":37,"k":"c"},{"n":69,"p":37,"k":"c"},{"n":70,"p":37,"k":"c"},{"n":65,"p":38,"k":"s"},{"n":66,"p":38,"k":"s"},{"n":67,"p":38,"k":"s"},{"n":68,"p":38,"k":"t"},{"n":69,"p":38,"k":"c"},{"n":70,"p":38,"k":"c"},{"n":71,"p":38,"k":"c"},{"n":67,"p":39,"k":"s"},{"n":68,"p":39,"k":"s"},{"n":69,"p":39,"k":"s"},{"n":70,"p":39,"k":"t"},{"n":71,"p":39,"k":"c"},{"n":72,"p":39,"k":"c"},{"n":68,"p":40,"k":"s"},{"n":69,"p":40,"k":"s"},{"n":70,"p":40,"k":"s"},{"n":71,"p":40,"k":"t"},{"n":72,"p":40,"k":"c"},{"n":73,"p":40,"k":"c"},{"n":74,"p":40,"k":"c"},{"n":70,"p":41,"k":"s"},{"n":71,"p":41,"k":"s"},{"n":72,"p":41,"k":"t"},{"n":73,"p":41,"k":"t"},{"n":74,"p":41,"k":"t"},{"n":75,"p":41,"k":"c"},{"n":76,"p":41,"k":"c"},{"n":70,"p":42,"k":"s"},{"n":71,"p":42,"k":"s"},{"n":72,"p":42,"k":"s"},{"n":73,"p":42,"k":"s"},{"n":74,"p":42,"k":"t"},{"n":75,"p":42,"k":"t"},{"n":76,"p":42,"k":"c"},{"n":77,"p":42,"k":"c"},{"n":78,"p":42,"k":"c"},{"n":73,"p":43,"k":"s"},{"n":74,"p":43,"k":"s"},{"n":75,"p":43,"k":"t"},{"n":76,"p":43,"k":"t"},{"n":77,"p":43,"k":"c"},{"n":78,"p":43,"k":"c"},{"n":79,"p":43,"k":"c"},{"n":75,"p":44,"k":"t"},{"n":76,"p":44,"k":"t"},{"n":77,"p":44,"k":"t"},{"n":78,"p":44,"k":"t"},{"n":79,"p":44,"k":"t"},{"n":80,"p":44,"k":"t"},{"n":81,"p":44,"k":"c"},{"n":82,"p":44,"k":"c"},{"n":77,"p":45,"k":"t"},{"n":78,"p":45,"k":"t"},{"n":79,"p":45,"k":"t"},{"n":80,"p":45,"k":"t"},{"n":81,"p":45,"k":"c"},{"n":82,"p":45,"k":"c"},{"n":83,"p":45,"k":"c"},{"n":79,"p":46,"k":"t"},{"n":80,"p":46,"k":"t"},{"n":81,"p":46,"k":"t"},{"n":82,"p":46,"k":"t"},{"n":83,"p":46,"k":"t"},{"n":84,"p":46,"k":"c"},{"n":85,"p":46,"k":"c"},{"n":84,"p":47,"k":"t"},{"n":85,"p":47,"k":"t"},{"n":86,"p":47,"k":"c"},{"n":87,"p":47,"k":"c"},{"n":86,"p":48,"k":"t"},{"n":87,"p":48,"k":"c"},{"n":88,"p":48,"k":"c"},{"n":87,"p":49,"k":"t"},{"n":88,"p":49,"k":"t"},{"n":89,"p":49,"k":"c"},{"n":90,"p":49,"k":"c"},{"n":88,"p":50,"k":"t"},{"n":89,"p":50,"k":"t"},{"n":90,"p":50,"k":"t"},{"n":91,"p":50,"k":"c"},{"n":92,"p":50,"k":"c"},{"n":86,"p":51,"k":"v"},{"n":87,"p":51,"k":"v"},{"n":88,"p":51,"k":"v"},{"n":89,"p":51,"k":"t"},{"n":90,"p":51,"k":"t"},{"n":91,"p":51,"k":"c"},{"n":92,"p":51,"k":"c"},{"n":87,"p":52,"k":"t"},{"n":88,"p":52,"k":"t"},{"n":89,"p":52,"k":"t"},{"n":90,"p":52,"k":"t"},{"n":91,"p":52,"k":"t"},{"n":92,"p":52,"k":"c"},{"n":93,"p":52,"k":"c"},{"n":91,"p":53,"k":"t"},{"n":92,"p":53,"k":"t"},{"n":93,"p":53,"k":"t"},{"n":94,"p":53,"k":"c"},{"n":95,"p":53,"k":"c"},{"n":94,"p":54,"k":"t"},{"n":95,"p":54,"k":"t"},{"n":96,"p":54,"k":"c"},{"n":97,"p":54,"k":"c"},{"n":94,"p":55,"k":"t"},{"n":95,"p":55,"k":"t"},{"n":96,"p":55,"k":"t"},{"n":97,"p":55,"k":"c"},{"n":98,"p":55,"k":"c"},{"n":95,"p":56,"k":"t"},{"n":96,"p":56,"k":"t"},{"n":97,"p":56,"k":"c"},{"n":98,"p":56,"k":"c"},{"n":94,"p":57,"k":"t"},{"n":95,"p":57,"k":"t"},{"n":96,"p":57,"k":"t"},{"n":97,"p":57,"k":"c"},{"n":98,"p":57,"k":"c"},{"n":95,"p":58,"k":"t"},{"n":96,"p":58,"k":"t"},{"n":97,"p":58,"k":"t"},{"n":98,"p":58,"k":"c"},{"n":99,"p":58,"k":"c"},{"n":96,"p":59,"k":"t"},{"n":97,"p":59,"k":"t"},{"n":98,"p":59,"k":"t"},{"n":99,"p":59,"k":"c"},{"n":100,"p":59,"k":"c"},{"n":97,"p":60,"k":"t"},{"n":98,"p":60,"k":"t"},{"n":99,"p":60,"k":"c"},{"n":100,"p":60,"k":"c"},{"n":99,"p":61,"k":"t"},{"n":100,"p":61,"k":"c"},{"n":101,"p":61,"k":"c"},{"n":101,"p":62,"k":"t"},{"n":102,"p":62,"k":"c"},{"n":103,"p":62,"k":"c"},{"n":103,"p":63,"k":"t"},{"n":104,"p":63,"k":"c"},{"n":103,"p":64,"k":"t"},{"n":104,"p":64,"k":"t"},{"n":104,"p":65,"k":"t"},{"n":104,"p":66,"k":"t"},{"n":72.97,"p":31.03,"k":"t"},{"n":72.97,"p":28.09,"k":"c"}],
"path":[{"l":51.5,"r":52.5,"b":28,"t":32.5},{"l":53.5,"r":54.5,"b":29.5,"t":33.48},{"l":55.5,"r":56.5,"b":31.58,"t":34.4},{"l":57.5,"r":58.5,"b":31.46,"t":34.5},{"l":59.5,"r":60.5,"b":32.6,"t":35.6},{"l":61.5,"r":62.5,"b":32.5,"t":36.5},{"l":63.5,"r":64.5,"b":33.4,"t":37.6},{"l":65.5,"r":66.5,"b":34.45,"t":38.7},{"l":67.5,"r":68.5,"b":35.43,"t":40.6},{"l":69.5,"r":70.5,"b":37.5,"t":40.6},{"l":71.5,"r":72.5,"b":38.5,"t":41.6},{"l":73.5,"r":74.5,"b":38.5,"t":41.43},{"l":75.5,"r":76.5,"b":38.5,"t":42.5},{"l":77.5,"r":78.5,"b":39.4,"t":42.66},{"l":79.5,"r":80.5,"b":40.45,"t":44.37},{"l":81.5,"r":82.5,"b":41.5,"t":45.5},{"l":83.5,"r":84.5,"b":46.57,"t":50.43},{"l":85.5,"r":86.5,"b":46.33,"t":50.43},{"l":87.5,"r":88.5,"b":47.5,"t":52.45},{"l":89.5,"r":90.5,"b":49.94,"t":52.45},{"l":91.5,"r":92.5,"b":50.1,"t":52.45},{"l":93.5,"r":94.5,"b":50.43,"t":53.5},{"l":95.5,"r":96.5,"b":50.37,"t":54.5},{"l":97.5,"r":98.5,"b":51.47,"t":54.5},{"l":99.5,"r":100.5,"b":51.47,"t":56.55},{"l":101.5,"r":102.5,"b":52.5,"t":56.55},{"l":103.5,"r":104.5,"b":53.5,"t":58.44}],
"magic":[{"x":49.5,"x2":49.5,"y":24.5,"y2":53.5},{"x":50.5,"x2":50.5,"y":24.5,"y2":53.5},{"x":81.5,"x2":81.5,"y":39.5,"y2":72.5},{"x":82.5,"x2":82.5,"y":39.5,"y2":72.5},{"x":47.5,"x2":99.5,"y":49.5,"y2":49.5},{"x":47.5,"x2":99.5,"y":50.5,"y2":50.5},{"x":44.5,"x2":59.5,"y":27.5,"y2":27.5},{"x":44.5,"x2":59.5,"y":28.5,"y2":28.5}],
"frame":[{"a":36.73,"b":111,"c":77.05,"d":77.4},{"a":36.73,"b":37.02,"c":17.6,"d":77.4}]},
"layer":[
{"data":{"name":"cells"},"mark":{"type":"rect","width":18,"height":16.7},"encoding":{"x":{"field":"n","type":"quantitative","scale":{"domain":[44.5,104.5],"nice":false,"zero":false},"axis":{"title":null,"orient":"bottom","values":[46,48,50,52,54,56,58,60,62,64,66,68,70,72,74,76,78,80,82,84,86,88,90,92,94,96,98,100,102,104],"labelExpr":"datum.value%10===0?datum.label:''","labelFontSize":25,"labelFont":"Liberation Sans","labelColor":"#111111","labelPadding":31,"labelOffset":-3,"tickColor":"#222222","tickWidth":2,"domainColor":"#222222","domainWidth":3,"tickSize":{"condition":{"test":"datum.value%10===0","value":-24},"value":-11},"grid":false,"labelOverlap":false,"labelFlush":false,"zindex":1}},"y":{"field":"p","type":"quantitative","scale":{"domain":[23.5,73.5],"nice":false,"zero":false},"axis":{"title":null,"orient":"left","values":[24,25,26,27,28,29,30,31,32,33,34,35,36,37,38,39,40,41,42,43,44,45,46,47,48,49,50,51,52,53,54,55,56,57,58,59,60,61,62,63,64,65,66,67,68,69,70,71,72,73],"labelExpr":"datum.value%5===0?datum.label:''","labelFontSize":25,"labelFont":"Liberation Sans","labelColor":"#111111","labelPadding":38,"tickColor":"#222222","tickWidth":2,"domainColor":"#222222","domainWidth":3,"tickSize":{"condition":{"test":"datum.value%5===0","value":-32},"value":-17},"grid":false,"labelOverlap":false,"zindex":1}},"color":{"field":"v","type":"ordinal","scale":{"domain":[0,1,2,3,4,5,6,7,8,9,10,11,12,13,14,15,16,17,18,19,20],"range":["#6400ff","#2800ff","#0000ff","#0050ff","#0096ff","#00c8ff","#00ffff","#00ffc8","#00ff8c","#00ff50","#00ff14","#14ff00","#64ff00","#a0ff00","#e6ff00","#ffe600","#ffaa00","#ff7300","#ff3c00","#ff0000","#000000"]},"legend":null}}},
{"layer":[
{"data":{"name":"frame"},"mark":{"type":"rect","color":"#00004f","clip":false},"encoding":{"x":{"field":"a","type":"quantitative","axis":null},"x2":{"field":"b"},"y":{"field":"c","type":"quantitative","scale":{"domain":[23.5,73.5],"nice":false,"zero":false},"axis":null},"y2":{"field":"d"}}},
{"data":{"name":"path"},"mark":{"type":"rect","fill":null,"stroke":"#00ee00","strokeWidth":6.5,"cornerRadius":5},"encoding":{"x":{"field":"l","type":"quantitative","axis":null},"x2":{"field":"r"},"y":{"field":"b","type":"quantitative","axis":null},"y2":{"field":"t"}}},
{"data":{"name":"magic"},"mark":{"type":"rule","color":"#5f5fd2","strokeWidth":5},"encoding":{"x":{"field":"x","type":"quantitative","axis":null},"x2":{"field":"x2"},"y":{"field":"y","type":"quantitative","axis":null},"y2":{"field":"y2"}}},
{"data":{"name":"marks"},"transform":[{"filter":"datum.k==='s'"}],"mark":{"type":"point","shape":"M0,-1L0.29,-0.4L0.95,-0.31L0.47,0.15L0.59,0.81L0,0.5L-0.59,0.81L-0.47,0.15L-0.95,-0.31L-0.29,-0.4Z","filled":true,"color":"#ffee33","opacity":1,"size":210},"encoding":{"x":{"field":"n","type":"quantitative","axis":null},"y":{"field":"p","type":"quantitative","axis":null}}},
{"data":{"name":"marks"},"transform":[{"filter":"datum.k==='v'"}],"mark":{"type":"point","shape":"triangle-down","filled":false,"color":"#ff00ff","opacity":1,"strokeWidth":2.5,"size":200},"encoding":{"x":{"field":"n","type":"quantitative","axis":null},"y":{"field":"p","type":"quantitative","axis":null}}},
{"data":{"name":"marks"},"transform":[{"filter":"datum.k==='t'"}],"mark":{"type":"point","shape":"triangle-up","filled":true,"color":"#ff00ee","opacity":1,"size":270},"encoding":{"x":{"field":"n","type":"quantitative","axis":null},"y":{"field":"p","type":"quantitative","axis":null}}},
{"data":{"name":"marks"},"transform":[{"filter":"datum.k==='c'"}],"mark":{"type":"point","shape":"circle","filled":true,"color":"#5f5fd2","opacity":1,"size":200},"encoding":{"x":{"field":"n","type":"quantitative","axis":null},"y":{"field":"p","type":"quantitative","axis":null}}},
{"data":{"values":[{"n":75.06,"p":31.1,"s":"Accessible at RIBF ( ~ 5-pnA )"},{"n":75.06,"p":28.15,"s":"Accessible at RIBF ( > 100-pnA )"}]},"mark":{"type":"text","align":"left","baseline":"middle","fontSize":33.5,"color":"#111111"},"encoding":{"x":{"field":"n","type":"quantitative","axis":null},"y":{"field":"p","type":"quantitative","axis":null},"text":{"field":"s"}}},
{"data":{"values":[{"n":89.69,"p":45.1,"s":"r-process path"}]},"mark":{"type":"text","align":"center","baseline":"middle","fontSize":33,"fontWeight":"bold","angle":331,"color":"#00e000"},"encoding":{"x":{"field":"n","type":"quantitative","axis":null},"y":{"field":"p","type":"quantitative","axis":null},"text":{"field":"s"}}},
{"data":{"values":[{"n":108.77,"p":75.09,"s":"Known Half-lives (ms)"}]},"mark":{"type":"text","align":"right","baseline":"middle","fontSize":34,"color":"#111111"},"encoding":{"x":{"field":"n","type":"quantitative","axis":null},"y":{"field":"p","type":"quantitative","axis":null},"text":{"field":"s"}}},
{"data":{"values":[{"n":98.24,"p":19.95,"s":"N"}]},"mark":{"type":"text","align":"left","baseline":"middle","fontSize":37,"color":"#111111"},"encoding":{"x":{"field":"n","type":"quantitative","axis":null},"y":{"field":"p","type":"quantitative","axis":null},"text":{"field":"s"}}},
{"data":{"values":[{"n":99.65,"p":18.79,"s":"Neutron"}]},"mark":{"type":"text","align":"left","baseline":"middle","fontSize":23.5,"color":"#111111"},"encoding":{"x":{"field":"n","type":"quantitative","axis":null},"y":{"field":"p","type":"quantitative","axis":null},"text":{"field":"s"}}},
{"data":{"values":[{"n":38.42,"p":67.75,"s":"N"}]},"mark":{"type":"text","align":"center","baseline":"middle","fontSize":36,"fontWeight":"bold","angle":270,"color":"#111111"},"encoding":{"x":{"field":"n","type":"quantitative","axis":null},"y":{"field":"p","type":"quantitative","axis":null},"text":{"field":"s"}}},
{"data":{"values":[{"n":39.32,"p":71.1,"s":"Proton"}]},"mark":{"type":"text","align":"center","baseline":"middle","fontSize":25,"fontWeight":"bold","angle":270,"color":"#222222"},"encoding":{"x":{"field":"n","type":"quantitative","axis":null},"y":{"field":"p","type":"quantitative","axis":null},"text":{"field":"s"}}}
]},
{"data":{"name":"bar"},"mark":{"type":"rect"},"encoding":{"x":{"field":"a","type":"quantitative","axis":null},"x2":{"field":"b"},"y":{"field":"lo","type":"quantitative","scale":{"type":"log","domain":[1,1000000000],"nice":false},"axis":{"title":null,"orient":"right","offset":67,"values":[1,2,3,4,5,6,7,8,9,10,20,30,40,50,60,70,80,90,100,200,300,400,500,600,700,800,900,1000,2000,3000,4000,5000,6000,7000,8000,9000,10000,20000,30000,40000,50000,60000,70000,80000,90000,100000,200000,300000,400000,500000,600000,700000,800000,900000,1000000,2000000,3000000,4000000,5000000,6000000,7000000,8000000,9000000,10000000,20000000,30000000,40000000,50000000,60000000,70000000,80000000,90000000,100000000,200000000,300000000,400000000,500000000,600000000,700000000,800000000,900000000,1000000000],"labelExpr":"datum.value===1?'1':(abs(log(datum.value)/LN10-round(log(datum.value)/LN10))<0.001?'10':'')","labelFontSize":31,"labelFont":"Liberation Sans","labelColor":"#111111","labelPadding":46,"labelOffset":4,"labelAlign":"left","labelOverlap":false,"labelFlush":false,"tickColor":"#222222","tickWidth":1.5,"domainColor":"#222222","domainWidth":2,"tickSize":{"condition":{"test":"abs(log(datum.value)/LN10-round(log(datum.value)/LN10))<0.001","value":-32},"value":-16},"grid":false,"zindex":1}},"y2":{"field":"hi"},"color":{"field":"i","type":"ordinal","legend":null}}}
],"resolve":{"scale":{"y":"independent"},"axis":{"x":"independent","y":"independent"}}}
